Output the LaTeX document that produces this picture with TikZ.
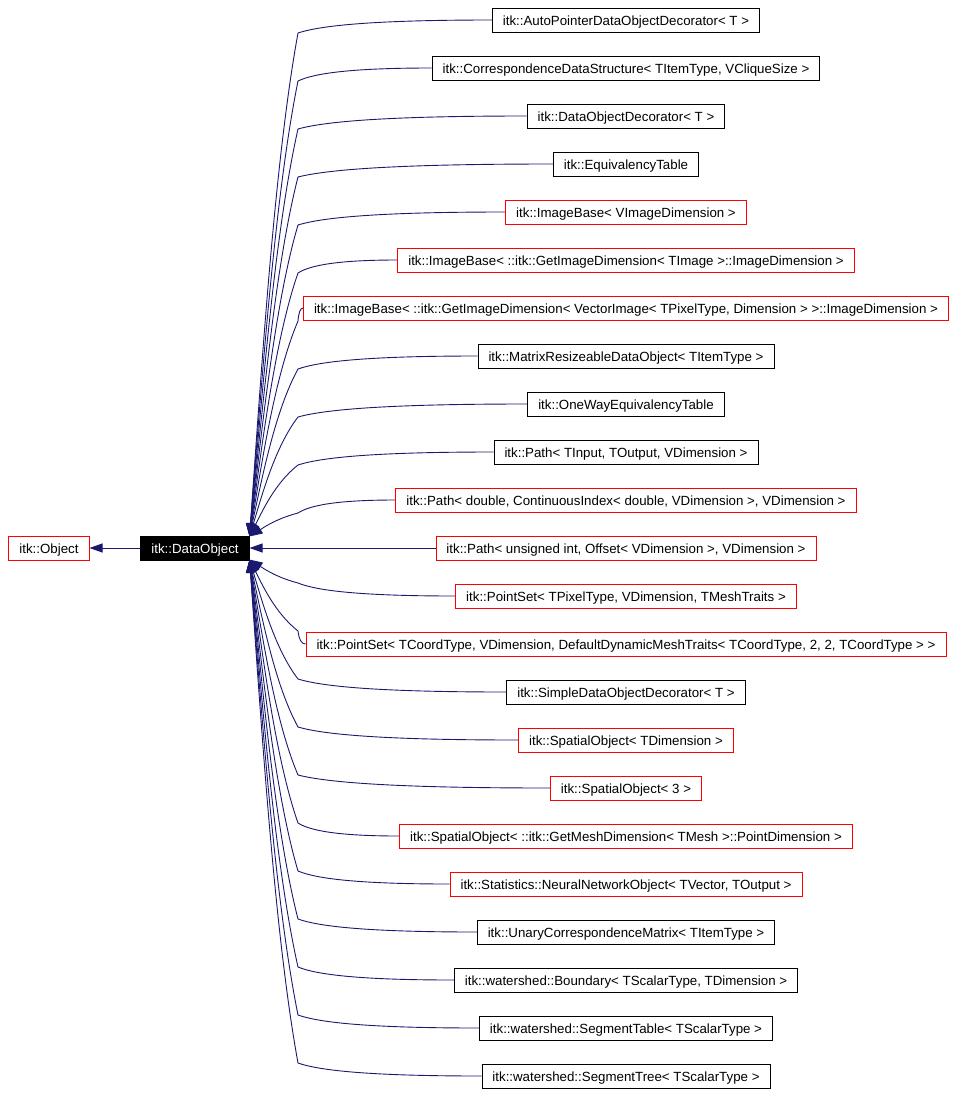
\documentclass[tikz,border=0pt]{standalone}
\usepackage{fontspec}
\setmainfont{Liberation Sans}
\usetikzlibrary{arrows.meta,calc}
\definecolor{edgeblue}{RGB}{25,25,112}

\begin{document}
\begin{tikzpicture}[x=1pt,y=-1pt,
  cls/.style={draw=black,line width=0.9pt,minimum height=24pt,inner xsep=10.5pt,inner ysep=0pt,
    text height=11pt,text depth=1pt,font=\fontsize{13.3}{16}\selectfont},
  ext/.style={cls,draw=red},
  cur/.style={cls,fill=black,text=white},
  inh/.style={draw=edgeblue,line width=0.9pt,-{Triangle[length=13pt,width=9pt]}}]
 \useasboundingbox (0,0) rectangle (959,1095);
 % ---- base classes ----
 \node[ext] (obj) at (49,548) {itk::Object};
 \node[cur] (dobj) at (195,548) {itk::DataObject};
 \draw[inh] (dobj) -- (obj);
 % ---- derived classes ----
 \node[cls] (apd) at (626,20) {itk::AutoPointerDataObjectDecorator< T >};
 \node[cls] (cds) at (626,68) {itk::CorrespondenceDataStructure< TItemType, VCliqueSize >};
 \node[cls] (dod) at (626,116) {itk::DataObjectDecorator< T >};
 \node[cls] (eqt) at (626,164) {itk::EquivalencyTable};
 \node[ext] (ib1) at (626,212) {itk::ImageBase< VImageDimension >};
 \node[ext] (ib2) at (626,260) {itk::ImageBase< ::itk::GetImageDimension< TImage >::ImageDimension >};
 \node[ext] (ib3) at (626,308) {itk::ImageBase< ::itk::GetImageDimension< VectorImage< TPixelType, Dimension > >::ImageDimension >};
 \node[cls] (mrd) at (626,356) {itk::MatrixResizeableDataObject< TItemType >};
 \node[cls] (owe) at (626,404) {itk::OneWayEquivalencyTable};
 \node[cls] (pt1) at (626,452) {itk::Path< TInput, TOutput, VDimension >};
 \node[ext] (pt2) at (626,500) {itk::Path< double, ContinuousIndex< double, VDimension >, VDimension >};
 \node[ext] (pt3) at (626,548) {itk::Path< unsigned int, Offset< VDimension >, VDimension >};
 \node[ext] (ps1) at (626,596) {itk::PointSet< TPixelType, VDimension, TMeshTraits >};
 \node[ext] (ps2) at (626,644) {itk::PointSet< TCoordType, VDimension, DefaultDynamicMeshTraits< TCoordType, 2, 2, TCoordType > >};
 \node[cls] (sdd) at (626,692) {itk::SimpleDataObjectDecorator< T >};
 \node[ext] (so1) at (626,740) {itk::SpatialObject< TDimension >};
 \node[ext] (so2) at (626,788) {itk::SpatialObject< 3 >};
 \node[ext] (so3) at (626,836) {itk::SpatialObject< ::itk::GetMeshDimension< TMesh >::PointDimension >};
 \node[ext] (nno) at (626,884) {itk::Statistics::NeuralNetworkObject< TVector, TOutput >};
 \node[cls] (ucm) at (626,932) {itk::UnaryCorrespondenceMatrix< TItemType >};
 \node[cls] (wbd) at (626,980) {itk::watershed::Boundary< TScalarType, TDimension >};
 \node[cls] (wtb) at (626,1028) {itk::watershed::SegmentTable< TScalarType >};
 \node[cls] (wtr) at (626,1076) {itk::watershed::SegmentTree< TScalarType >};
 % ---- inheritance edges ----
 \draw[inh] (pt3) -- (dobj);
 \foreach \c/\y in {apd/20,cds/68,dod/116,eqt/164,ib1/212,ib2/260,ib3/308,mrd/356,
   owe/404,pt1/452,pt2/500,ps1/596,ps2/644,sdd/692,so1/740,so2/788,so3/836,
   nno/884,ucm/932,wbd/980,wtb/1028,wtr/1076}{
   \pgfmathtruncatemacro{\sg}{\y<548 ? 1 : -1}
   \pgfmathtruncatemacro{\ta}{12*\sg}
   \pgfmathsetmacro{\by}{\y+13*\sg}
   \pgfmathsetmacro{\ty}{548-11*\sg}
   \pgfmathsetmacro{\ca}{\by+0.25*(\ty-\by)}
   \pgfmathsetmacro{\cb}{\ty-0.35*(\ty-\by)}
   \draw[inh] (\c.west) .. controls ($(\c.west)!0.6!(298,\y)$) and ($(\c.west)!0.88!(298,\y+6*\sg)$) .. (298,\by)
     .. controls (275,\ca) and (262,\cb) .. (dobj.\ta);
 }
\end{tikzpicture}
\end{document}
